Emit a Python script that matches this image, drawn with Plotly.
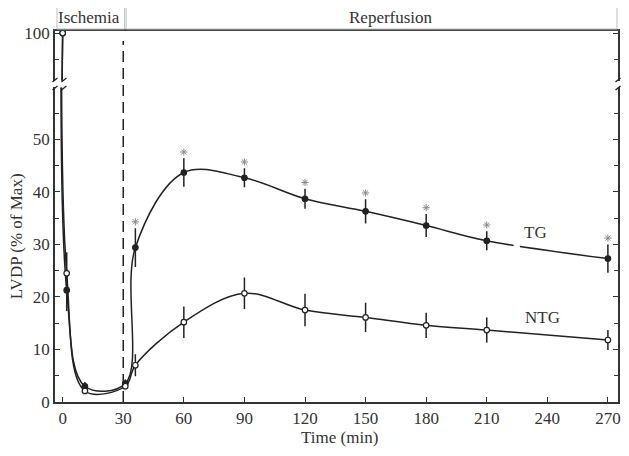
import plotly.graph_objects as go

# ---- data ----
time_min = [0, 2, 11, 31, 36, 60, 90, 120, 150, 180, 210, 270]
tg = [100, 21.3, 3.0, 3.5, 29.4, 43.7, 42.7, 38.7, 36.3, 33.6, 30.7, 27.3]
tg_err = [0, 4.0, 0.8, 0.8, 3.7, 2.7, 1.8, 1.9, 2.3, 2.2, 1.8, 2.7]
ntg = [100, 24.5, 2.1, 3.0, 7.0, 15.2, 20.7, 17.5, 16.1, 14.6, 13.7, 11.8]
ntg_err = [0, 4.0, 0.6, 0.6, 2.1, 3.0, 3.0, 3.1, 2.8, 2.4, 2.4, 1.9]
significant = [False, False, False, False, True, True, True, True, True, True, True, True]
x_ticks = [0, 30, 60, 90, 120, 150, 180, 210, 240, 270]

FONT = "Liberation Serif"
INK = "#222222"
TXT = "#333333"
STAR = "#8a8a8a"

# pixel helpers for decorations, in screenshot pixels (plot area: 55..621 x, 31..402 y)
W, H = 566.0, 371.0
def px(x):
    return (x - 55) / W
def py(y):
    return (402 - y) / H

fig = go.Figure()

def add_series(vals, errs, name, filled, xa, ya, show_err):
    fig.add_trace(go.Scatter(
        x=time_min, y=vals, name=name, xaxis=xa, yaxis=ya,
        mode="lines+markers",
        line=dict(shape="spline", smoothing=1.0, color=INK, width=1.5),
        marker=dict(symbol="circle", size=5.5,
                    color=INK if filled else "white",
                    line=dict(color=INK, width=1.2)),
        error_y=dict(type="data", array=errs, visible=show_err,
                     width=0, thickness=1.5, color=INK),
        cliponaxis=True, showlegend=False))

# lower panel
add_series(tg, tg_err, "TG", True, "x", "y", True)
add_series(ntg, ntg_err, "NTG", False, "x", "y", True)
# upper panel (same data, broken axis)
add_series(tg, tg_err, "TG", True, "x2", "y2", False)
add_series(ntg, ntg_err, "NTG", False, "x2", "y2", False)

# significance asterisks above TG error bars
sx = [t for t, s in zip(time_min, significant) if s]
sy = [v + e + 1.2 for v, e, s in zip(tg, tg_err, significant) if s]
fig.add_trace(go.Scatter(x=sx, y=sy, mode="markers",
                         marker=dict(symbol="asterisk-open", size=6, color=STAR,
                                     line=dict(color=STAR, width=1)),
                         xaxis="x", yaxis="y", showlegend=False, hoverinfo="skip"))

axis_common = dict(showgrid=False, zeroline=False,
                   tickfont=dict(family=FONT, size=17, color=TXT),
                   tickcolor=TXT)

fig.update_layout(
    width=621, height=448,
    margin=dict(l=47, r=8, t=23, b=54),
    paper_bgcolor="white", plot_bgcolor="white",
    font=dict(family=FONT, color=TXT),
    xaxis=dict(**axis_common, domain=[0, 1], anchor="y", range=[-3.8, 275],
               tickvals=x_ticks, ticks="inside", ticklen=5, tickwidth=1.2,
               showline=True, linewidth=1.5, linecolor=TXT, mirror=False),
    yaxis=dict(**axis_common, domain=[0, 0.848], anchor="x", range=[0, 59.9],
               tickmode="linear", tick0=0, dtick=10, ticks="inside",
               ticklen=5, tickwidth=1.2, showline=True, linewidth=1.5,
               linecolor=TXT, mirror="ticks",
               minor=dict(dtick=5, tick0=0, ticks="inside", ticklen=4,
                          tickcolor=TXT, tickwidth=1.2)),
    xaxis2=dict(**axis_common, domain=[0, 1], anchor="y2", matches="x",
                range=[-3.8, 275], side="top", showline=True, linewidth=2.2,
                linecolor="#444444", showticklabels=False, ticks=""),
    yaxis2=dict(**axis_common, domain=[0.866, 1], anchor="x2",
                range=[90.9, 100.4], tickmode="linear", tick0=0, dtick=10,
                ticks="inside", ticklen=5, tickwidth=1.2, showline=True,
                linewidth=1.5, linecolor=TXT, mirror="ticks",
                minor=dict(dtick=5, tick0=0, ticks="inside", ticklen=4,
                           tickcolor=TXT, tickwidth=1.2)),
)

shapes = []
# dashed line at end of ischemia
shapes.append(dict(type="line", xref="x", yref="paper", x0=30, x1=30,
                   y0=0, y1=py(41), line=dict(color=INK, width=1.5, dash="11px,6px")))
# header boxes
shapes.append(dict(type="rect", xref="paper", yref="paper",
                   x0=px(57), x1=px(125), y0=py(29), y1=py(7),
                   line=dict(color="#bdbdbd", width=1)))
shapes.append(dict(type="rect", xref="paper", yref="paper",
                   x0=px(126.5), x1=px(620), y0=py(29), y1=py(7),
                   line=dict(color="#bdbdbd", width=1)))
# axis-break marks (left axis, data line at t=0, right axis)
for bx in (55, 64, 621):
    for by in (80, 88):
        shapes.append(dict(type="line", xref="paper", yref="paper",
                           x0=px(bx - 2.5), x1=px(bx + 2.5),
                           y0=py(by + 2), y1=py(by - 2),
                           line=dict(color=INK, width=1.3)))
# small gap in the TG curve next to its label
shapes.append(dict(type="rect", xref="x", yref="y", x0=223.3, x1=226.4,
                   y0=28.0, y1=31.5, fillcolor="white",
                   line=dict(width=0), layer="above"))
fig.update_layout(shapes=shapes)

def note(text, x, y, xref="paper", yref="paper", angle=0):
    return dict(text=text, xref=xref, yref=yref, x=x, y=y, textangle=angle,
                xanchor="center", yanchor="middle", showarrow=False,
                font=dict(family=FONT, size=17, color=TXT))

annotations = [
    note("Ischemia", px(89.5), py(18)),
    note("Reperfusion", px(393), py(18)),
    note("TG", 234, 32.2, "x", "y"),
    note("NTG", 237.5, 16.1, "x", "y"),
    note("LVDP (% of Max)", px(16), py(236), angle=-90),
    note("Time (min)", px(341), py(438)),
]
fig.update_layout(annotations=annotations)

fig.write_html("out.html")
